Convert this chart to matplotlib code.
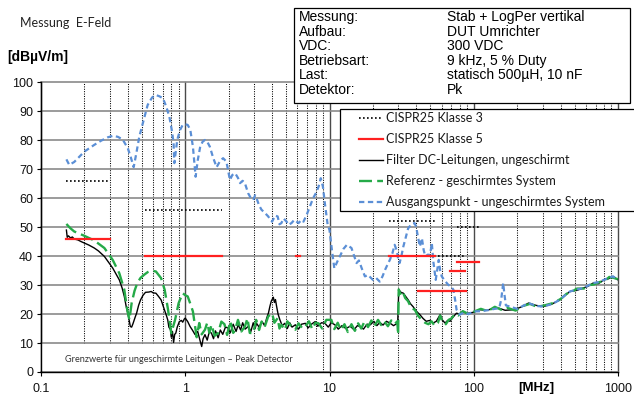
import matplotlib
matplotlib.use('Agg')
import matplotlib.pyplot as plt
from matplotlib.lines import Line2D
from matplotlib.patches import Rectangle
from matplotlib.ticker import FixedLocator, NullFormatter

plt.rcParams['font.family'] = ['Liberation Sans', 'DejaVu Sans']

# ---------------- data ----------------
# CISPR25 Klasse 3 (peak) limit bands: start MHz, end MHz, level dBuV/m
k3_start = [0.15, 0.53, 26, 41, 76]
k3_end = [0.30, 1.8, 54, 88, 108]
k3_level = [66, 56, 52, 40, 50]

# CISPR25 Klasse 5 (peak) limit bands
k5_start = [0.15, 0.53, 5.9, 26, 41, 68, 76]
k5_end = [0.30, 1.8, 6.2, 54, 88, 87, 108]
k5_level = [46, 40, 40, 40, 28, 35, 38]

# Filter DC-Leitungen, ungeschirmt (black)
filt_f = [0.150, 0.152, 0.155, 0.16, 0.165, 0.17, 0.18, 0.19, 0.20, 0.215, 0.234, 0.25,
          0.275, 0.29, 0.314, 0.33, 0.349, 0.365, 0.378, 0.39, 0.404, 0.416, 0.425, 0.435,
          0.45, 0.46, 0.475, 0.49, 0.51, 0.53, 0.56, 0.58, 0.60, 0.626, 0.65, 0.68, 0.70,
          0.717, 0.74, 0.756, 0.77, 0.79, 0.80, 0.815, 0.83, 0.845, 0.86, 0.88, 0.91, 0.94,
          0.96, 0.985, 1.0, 1.04, 1.08, 1.12, 1.17, 1.22, 1.27, 1.30, 1.33, 1.37, 1.42, 1.47,
          1.52, 1.57, 1.62, 1.69, 1.75, 1.82, 1.9, 1.98, 2.05, 2.15, 2.25, 2.33, 2.42, 2.5,
          2.6, 2.73, 2.85, 2.96, 3.05, 3.12, 3.25, 3.4, 3.55, 3.67, 3.78, 3.86, 3.95, 4.08,
          4.15, 4.22, 4.3, 4.4, 4.53, 4.7, 4.9, 5.1, 5.3, 5.5, 5.8, 6.1, 6.4, 6.8, 7.1, 7.5,
          7.96, 8.3, 8.8, 9.3, 9.8, 10.3, 10.9, 11.5, 12.2, 13.0, 13.9, 14.8, 15.6, 16.3,
          17.2, 18.2, 19.2, 20.3, 21.3, 22.3, 23.5, 24.8, 26.2, 27.8, 29.7, 30.2, 31.3, 32.5,
          33.8, 35.1, 36.5, 37.9, 40.0, 42.3, 44.5, 46.8, 49.5, 52.3, 55.0, 58.5, 60.5, 63.2,
          66.0, 68.5, 72.0, 75.9, 80.0, 83.8, 90, 99, 110, 124, 137, 150, 165, 190, 215, 240,
          270, 304, 350, 395, 430, 465, 520, 576, 620, 672, 730, 800, 860, 923, 1000]
filt_v = [49.0, 46.5, 47.0, 46.3, 46.6, 45.9, 45.6, 45.0, 44.5, 43.8, 42.8, 41.8,
          39.9, 38.3, 35.9, 34.0, 31.8, 29.0, 26.1, 22.5, 19.2, 15.7, 15.5, 16.8,
          19.0, 20.3, 23.0, 24.9, 26.5, 27.5, 27.6, 27.8, 27.3, 27.2, 26.2, 24.9, 23.0,
          21.5, 19.5, 18.0, 15.5, 14.6, 12.0, 14.0, 10.2, 13.0, 13.4, 15.5, 17.4, 17.8,
          17.2, 18.3, 18.6, 17.4, 15.7, 14.5, 12.9, 14.0, 10.6, 8.8, 11.5, 12.9, 11.0, 14.0,
          13.4, 11.5, 14.2, 11.8, 14.5, 13.0, 15.5, 15.2, 13.5, 16.5, 14.0, 16.3, 14.5, 17.0,
          14.8, 15.7, 14.0, 17.0, 15.0, 16.8, 15.5, 17.5, 16.0, 18.6, 20.5, 22.6, 24.5, 25.8,
          24.0, 25.0, 22.6, 20.0, 18.0, 16.0, 16.8, 15.0, 17.0, 15.5, 16.3, 14.8, 16.5, 16.8, 15.2, 16.5,
          17.4, 15.8, 17.0, 16.8, 15.5, 17.0, 16.3, 14.8, 16.0, 15.0, 15.8, 14.6, 16.0, 15.7,
          14.8, 16.5, 16.3, 17.5, 16.0, 17.1, 16.2, 17.5, 16.9, 16.0, 16.9, 28.4, 27.5, 27.2,
          26.0, 24.9, 23.5, 22.6, 21.0, 19.8, 18.5, 17.5, 17.8, 16.9, 17.5, 19.8, 18.0, 16.9,
          17.8, 17.5, 19.0, 20.3, 20.0, 20.9, 20.2, 20.6, 21.5, 21.3, 22.0, 22.0, 21.3, 21.5, 22.5, 23.8,
          23.0, 22.6, 23.5, 24.9, 26.5, 27.8, 28.2, 29.0, 29.6, 30.7, 30.5, 31.8, 32.2, 33.0, 31.8]

# Referenz - geschirmtes System (green)
ref_f = [0.15, 0.16, 0.17, 0.2, 0.234, 0.275, 0.314, 0.349, 0.378, 0.396, 0.41, 0.425,
         0.445, 0.465, 0.49, 0.52, 0.55, 0.58, 0.626, 0.68, 0.72, 0.76, 0.8, 0.85, 0.9,
         0.96, 1.0, 1.04, 1.08, 1.13, 1.2, 1.25, 1.3, 1.37, 1.42, 1.47, 1.52, 1.6, 1.69,
         1.78, 1.87, 1.95, 2.05, 2.15, 2.22, 2.32, 2.45, 2.59, 2.7, 2.8, 2.96, 3.1, 3.25,
         3.38, 3.55, 3.76, 4.0, 4.15, 4.37, 4.5, 4.64, 4.9, 5.1, 5.45, 5.8, 6.1, 6.5, 6.8,
         7.2, 7.6, 8.0, 8.4, 8.9, 9.5, 10.3, 10.8, 11.4, 12.0, 12.7, 13.4, 14.2, 15.0, 15.8,
         16.6, 17.5, 18.5, 19.5, 20.5, 21.7, 22.8, 24.0, 25.4, 26.8, 28.3, 29.5, 29.9, 30.2,
         31.0, 32.0, 33.5, 35.0, 37.0, 39.0, 41.0, 43.5, 46.0, 48.5, 51.0, 53.5, 56.5, 58.5,
         61.0, 64.0, 67.0, 70.0, 74.0, 78.0, 84.0, 92, 100, 112, 125, 140, 155, 170, 195,
         220, 245, 275, 310, 355, 400, 440, 470, 520, 580, 630, 680, 740, 810, 870, 930, 1000]
ref_v = [51.1, 49.6, 48.5, 47.0, 45.4, 42.8, 38.7, 34.1, 28.4, 21.5, 18.0, 23.8,
         28.0, 30.7, 32.5, 33.6, 34.5, 35.0, 34.7, 32.4, 28.4, 21.5, 13.4, 18.0, 23.8,
         27.2, 26.5, 26.1, 23.8, 20.9, 12.0, 16.9, 13.0, 14.6, 17.0, 13.5, 16.3, 12.5, 13.4,
         17.4, 16.5, 12.8, 17.5, 13.5, 14.6, 18.0, 14.0, 15.7, 18.5, 13.5, 13.4, 18.0, 14.5,
         17.4, 15.5, 19.2, 20.3, 17.0, 18.6, 15.0, 16.3, 14.5, 17.5, 15.7, 14.6, 16.8, 15.0, 15.7,
         17.5, 14.8, 17.0, 16.8, 15.0, 18.0, 18.0, 14.8, 17.0, 14.5, 16.5, 13.8, 16.5, 14.2, 16.8,
         15.0, 17.5, 15.5, 17.8, 15.8, 18.0, 16.2, 17.5, 15.8, 17.8, 16.5, 17.5, 12.9, 28.5,
         27.0, 28.0, 25.5, 24.5, 22.0, 21.5, 19.5, 18.0, 17.0, 16.5, 17.5, 16.0, 17.0, 19.5,
         17.0, 16.5, 18.0, 18.5, 20.0, 19.5, 21.0, 20.0, 20.8, 21.8, 21.0, 22.5, 21.5, 22.2, 21.2,
         22.8, 23.5, 22.5, 23.0, 23.8, 25.2, 27.0, 27.5, 28.8, 28.8, 30.0, 30.2, 31.0, 31.5, 32.8, 32.5, 32.0]

# Ausgangspunkt - ungeschirmtes System (blue)
base_f = [0.15, 0.157, 0.17, 0.2, 0.234, 0.26, 0.29, 0.314, 0.34, 0.368, 0.40, 0.42, 0.439,
          0.46, 0.48, 0.515, 0.549, 0.59, 0.626, 0.66, 0.70, 0.74, 0.776, 0.81, 0.83, 0.84,
          0.86, 0.88, 0.92, 0.96, 1.0, 1.04, 1.084, 1.13, 1.18, 1.22, 1.27, 1.32, 1.37, 1.42,
          1.48, 1.56, 1.65, 1.75, 1.83, 1.93, 2.04, 2.12, 2.22, 2.32, 2.4, 2.5, 2.59, 2.73,
          2.85, 2.96, 3.05, 3.12, 3.25, 3.38, 3.55, 3.76, 3.9, 4.0, 4.2, 4.37, 4.5, 4.64, 4.8,
          5.04, 5.2, 5.45, 5.7, 6.1, 6.4, 6.6, 6.94, 7.3, 7.7, 8.1, 8.4, 8.7, 9.0, 9.3, 9.7,
          10.0, 10.4, 10.8, 11.3, 11.8, 12.5, 13.2, 14.2, 15.4, 16.0, 16.7, 17.6, 18.5, 20.0,
          21.0, 22.3, 23.3, 24.3, 25.2, 26.2, 27.3, 28.3, 29.4, 30.0, 30.6, 31.5, 32.5, 34.0,
          35.1, 37.0, 38.9, 40.0, 40.6, 42.3, 43.7, 45.0, 46.2, 48.0, 49.8, 51.2, 52.5, 54.5,
          57.2, 58.5, 60.0, 63.0, 66.6, 69.5, 72.3, 74.5, 76.0, 80.1, 85.0, 92.0, 100, 112,
          124, 140, 150, 155, 160, 163, 167, 180, 200, 240, 270, 304, 350, 395, 430, 465, 520,
          576, 620, 672, 730, 800, 860, 923, 1000]
base_v = [73.4, 71.5, 72.5, 76.1, 78.4, 79.8, 81.0, 81.5, 81.2, 80.3, 77.2, 74.0, 70.7,
          76.0, 81.2, 87.0, 92.2, 94.8, 95.6, 95.2, 94.5, 91.5, 88.1, 83.0, 79.0, 72.1,
          76.0, 80.1, 83.5, 85.3, 85.5, 85.3, 83.6, 77.8, 67.4, 73.0, 77.8, 79.5, 80.1, 79.5,
          77.8, 74.0, 70.7, 73.0, 73.8, 72.6, 66.3, 68.0, 68.6, 67.0, 65.2, 66.0, 65.2, 61.7,
          60.0, 59.4, 61.0, 60.0, 57.5, 56.0, 55.0, 53.7, 52.5, 51.9, 54.0, 53.7, 51.0, 51.4, 53.0,
          51.9, 50.8, 51.4, 52.5, 51.4, 52.5, 51.9, 54.2, 57.0, 60.0, 62.0, 64.0, 66.9, 64.0, 58.0, 51.0,
          49.0, 42.0, 35.8, 38.0, 39.9, 42.5, 43.9, 42.8, 37.6, 38.5, 35.9, 33.0, 33.5, 31.8,
          32.5, 31.2, 33.0, 35.3, 37.0, 38.7, 41.0, 43.9, 41.6, 38.5, 37.6, 40.0, 43.3, 47.0,
          49.6, 51.0, 51.4, 50.0, 47.9, 43.3, 46.2, 42.0, 39.9, 40.5, 40.4, 44.5, 38.0, 31.8,
          38.7, 35.0, 33.0, 31.5, 30.1, 29.5, 28.4, 24.5, 21.5, 19.8, 20.5, 20.0, 20.9, 21.0,
          21.3, 21.8, 22.0, 25.0, 30.7, 27.0, 23.0, 22.5, 21.8, 23.8, 22.8, 22.6, 23.5, 24.9, 26.5, 27.8, 28.5,
          29.0, 29.8, 30.7, 31.0, 31.8, 32.5, 33.0, 31.8]

series_labels = ['CISPR25 Klasse 3', 'CISPR25 Klasse 5', 'Filter DC-Leitungen, ungeschirmt',
                 'Referenz - geschirmtes System', 'Ausgangspunkt - ungeschirmtes System']
xtick_vals = [0.1, 1, 10, 100, 1000]
xtick_labels = ['0.1', '1', '10', '100', '1000']
ytick_vals = list(range(0, 101, 10))

info_keys = ['Messung:', 'Aufbau:', 'VDC:', 'Betriebsart:', 'Last:', 'Detektor:']
info_vals = ['Stab + LogPer vertikal', 'DUT Umrichter', '300 VDC', '9 kHz, 5 % Duty',
             'statisch 500µH, 10 nF', 'Pk']

# ---------------- styles ----------------
C_BLUE = '#5b8fd6'
C_GREEN = '#25aa48'
C_RED = '#ff2020'
ls_k3 = (0, (1, 1.4))
ls_green = (0, (5.5, 2.2))
ls_blue = (0, (2.4, 1.6))

W, H = 634, 395
fig = plt.figure(figsize=(W / 100, H / 100), dpi=100)


def fx(px):
    return px / W


def fy(py):
    return 1 - py / H


ax = fig.add_axes([fx(41), fy(372), (618 - 41) / W, (372 - 82.3) / H])
ax.set_xscale('log')
ax.set_xlim(0.1, 1000)
ax.set_ylim(0, 100)
ax.set_axisbelow(True)

ax.xaxis.set_major_locator(FixedLocator(xtick_vals))
ax.set_xticklabels(xtick_labels)
ax.xaxis.set_minor_locator(FixedLocator([m * d for d in [0.1, 1, 10, 100] for m in range(2, 10)]))
ax.xaxis.set_minor_formatter(NullFormatter())
ax.set_yticks(ytick_vals)

ax.tick_params(axis='both', which='major', direction='out', length=3.2, width=0.8,
               color='black', labelsize=9, pad=2.5, labelcolor='#111111')
ax.tick_params(axis='x', which='major', pad=4.5)
ax.tick_params(axis='x', which='minor', length=0)

ax.yaxis.grid(True, color='#8a8a8a', lw=1.2)
ax.xaxis.grid(True, which='major', color='#4a4a4a', lw=1.0)
ax.xaxis.grid(True, which='minor', color='black', lw=0.75, linestyle=(0, (1, 1.3)))
for gl in ax.get_ygridlines() + ax.get_xgridlines():
    gl.set_clip_on(False)

for s in ['top', 'right']:
    ax.spines[s].set_visible(False)
for s in ['left', 'bottom']:
    ax.spines[s].set_color('black')
    ax.spines[s].set_linewidth(1.0)

# white box hiding gridlines below the note
ax.add_patch(Rectangle((0, 0.004), (318 - 41) / 577, 0.093, transform=ax.transAxes,
                       facecolor='white', edgecolor='none', zorder=0.8))

# curves
ax.plot(filt_f, filt_v, color='black', lw=1.0, zorder=3)
ax.plot(ref_f, ref_v, color=C_GREEN, lw=1.7, linestyle=ls_green, zorder=4)
ax.plot(base_f, base_v, color=C_BLUE, lw=1.6, linestyle=ls_blue, zorder=5)

# limits
for a, b, l in zip(k3_start, k3_end, k3_level):
    ax.plot([a, b], [l, l], color='black', lw=1.2, linestyle=ls_k3, zorder=6)
for a, b, l in zip(k5_start, k5_end, k5_level):
    ax.plot([a, b], [l, l], color=C_RED, lw=1.6, zorder=6)

# texts
fig.text(fx(20), fy(23), 'Messung  E-Feld', fontsize=9, family=['Lato', 'DejaVu Sans'],
         va='center', ha='left', color='#222222')
fig.text(fx(7), fy(57), '[dBµV/m]', fontsize=10, fontweight='bold', va='center', ha='left')
fig.text(fx(518), fy(394.5), '[MHz]', fontsize=9.5, fontweight='bold', va='bottom', ha='left')
fig.text(fx(65), fy(360), 'Grenzwerte für ungeschirmte Leitungen – Peak Detector',
         fontsize=6.6, family=['Lato', 'DejaVu Sans'], va='center', ha='left', color='#333333')

# info box
fig.patches.append(Rectangle((fx(294), fy(103)), (630 - 294) / W, (103 - 8) / H,
                             transform=fig.transFigure, facecolor='white', edgecolor='black',
                             lw=0.9, zorder=1))
for i, (k, v) in enumerate(zip(info_keys, info_vals)):
    y = 17.5 + 14.4 * i
    fig.text(fx(299), fy(y), k, fontsize=10, va='center', ha='left', zorder=2)
    fig.text(fx(447), fy(y), v, fontsize=10, va='center', ha='left', zorder=2)

# legend box
fig.patches.append(Rectangle((fx(340), fy(211)), (645 - 340) / W, (211 - 109) / H,
                             transform=fig.transFigure, facecolor='white', edgecolor='black',
                             lw=0.9, zorder=1))
handles = [Line2D([], [], color='black', lw=1.2, linestyle=ls_k3),
           Line2D([], [], color=C_RED, lw=1.6),
           Line2D([], [], color='black', lw=1.0),
           Line2D([], [], color=C_GREEN, lw=1.7, linestyle=ls_green),
           Line2D([], [], color=C_BLUE, lw=1.6, linestyle=ls_blue)]
leg = fig.legend(handles, series_labels, loc='upper left', bbox_to_anchor=(fx(359), fy(112)),
                 frameon=False, borderpad=0, borderaxespad=0, handlelength=1.9,
                 handletextpad=0.3, labelspacing=0.72,
                 prop={'family': ['Lato', 'DejaVu Sans'], 'size': 9})
leg.set_zorder(3)
for t in leg.get_texts():
    t.set_color('#1a1a1a')

fig.savefig('out.png', dpi=100)
